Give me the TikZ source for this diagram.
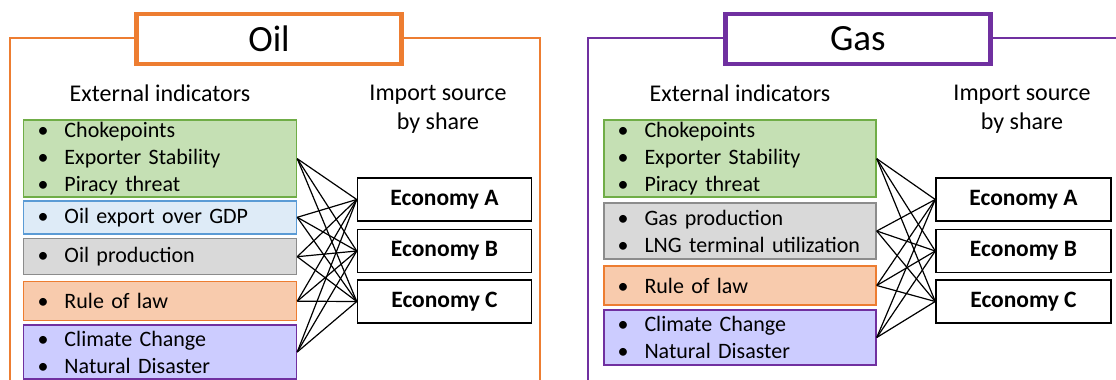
\documentclass[tikz,border=0pt]{standalone}
\usepackage{fontspec}
\setmainfont{Carlito}
\definecolor{oilc}{HTML}{ED7D31}
\definecolor{gasc}{HTML}{7030A0}
\definecolor{gfill}{HTML}{C5E0B4}
\definecolor{gdraw}{HTML}{70AD47}
\definecolor{bfill}{HTML}{DEEBF7}
\definecolor{bdraw}{HTML}{5B9BD5}
\definecolor{yfill}{HTML}{D9D9D9}
\definecolor{ydraw}{HTML}{8C8C8C}
\definecolor{ofill}{HTML}{F8CBAD}
\definecolor{odraw}{HTML}{ED7D31}
\definecolor{pfill}{HTML}{CCCCFF}
\definecolor{pdraw}{HTML}{7030A0}
\newcommand{\bl}[1]{\makebox[27pt][l]{\textbullet}#1}
\tikzset{
  panel/.style={line width=1.5pt},
  titlebox/.style={draw=#1, line width=4.5pt, fill=white, minimum width=265pt, minimum height=50pt,
    font=\fontsize{37}{40}\selectfont, inner sep=0pt},
  head/.style={font=\fontsize{24}{28.5}\selectfont, align=center, inner sep=0pt},
  indbox/.style={rectangle, line width=1.5pt, minimum width=273pt, text width=245pt, inner xsep=13pt,
    inner ysep=0pt, align=left, font=\fontsize{22}{27}\selectfont},
  green/.style={indbox, draw=gdraw, fill=gfill},
  blue/.style={indbox, draw=bdraw, fill=bfill},
  grey/.style={indbox, draw=ydraw, fill=yfill},
  orange/.style={indbox, draw=odraw, fill=ofill},
  purple/.style={indbox, draw=pdraw, fill=pfill},
  econ/.style={draw=black, line width=1.5pt, fill=white, minimum width=174pt, minimum height=43pt,
    inner sep=0pt, font=\fontsize{23.5}{26}\selectfont\bfseries},
  link/.style={black, line width=1.2pt}
}
\begin{document}
\begin{tikzpicture}[x=1pt,y=-1pt]
\useasboundingbox (0,0) rectangle (1116,380);
\clip (0,0) rectangle (1116,380);
% ---------------- Oil panel
\draw[panel, draw=oilc] (10,400) -- (10,38) -- (540,38) -- (540,400);
\node[titlebox=oilc] (toil) at (269,38.8) {Oil};
\node[head] (eoil) at (160,93) {External indicators};
\node[head] (ioil) at (438,109) {Import source\\by share};
\node[green, minimum height=77pt] (o1) at (160,158.7) {\bl{Chokepoints}\\\bl{Exporter Stability}\\\bl{Piracy threat}};
\node[blue, minimum height=33pt] (o2) at (160,217.3) {\bl{Oil export over GDP}};
\node[grey, minimum height=36pt] (o3) at (160,256.7) {\bl{Oil production}};
\node[orange, minimum height=39pt] (o4) at (160,301.2) {\bl{Rule of law}};
\node[purple, minimum height=54pt] (o5) at (160,352) {\bl{Climate Change}\\\bl{Natural Disaster}};
\node[econ] (oa) at (444.5,199.5) {Economy A};
\node[econ] (ob) at (444.5,251) {Economy B};
\node[econ] (oc) at (444.5,301.5) {Economy C};
\foreach \s in {o1,o2,o3,o4,o5}
  \foreach \t in {oa,ob,oc}
    \draw[link] (\s.east) -- (\t.west);
% ---------------- Gas panel
\draw[panel, draw=gasc] (588,400) -- (588,38) -- (1130,38);
\node[titlebox=gasc] (tgas) at (857.8,38.8) {Gas};
\node[head] (egas) at (740,93) {External indicators};
\node[head] (igas) at (1022,109) {Import source\\by share};
\node[green, minimum height=77pt, minimum width=272pt] (g1) at (740,158.7) {\bl{Chokepoints}\\\bl{Exporter Stability}\\\bl{Piracy threat}};
\node[grey, minimum height=56pt, minimum width=272pt] (g2) at (740,231) {\bl{Gas production}\\\bl{LNG terminal utilization}};
\node[orange, minimum height=39pt, minimum width=272pt] (g3) at (740,285.5) {\bl{Rule of law}};
\node[purple, minimum height=55pt, minimum width=272pt] (g4) at (740,337.5) {\bl{Climate Change}\\\bl{Natural Disaster}};
\node[econ, minimum width=175pt] (ga) at (1023.5,199.5) {Economy A};
\node[econ, minimum width=175pt] (gb) at (1023.5,251) {Economy B};
\node[econ, minimum width=175pt] (gc) at (1023.5,301.5) {Economy C};
\foreach \s in {g1,g2,g3,g4}
  \foreach \t in {ga,gb,gc}
    \draw[link] (\s.east) -- (\t.west);
\end{tikzpicture}
\end{document}
